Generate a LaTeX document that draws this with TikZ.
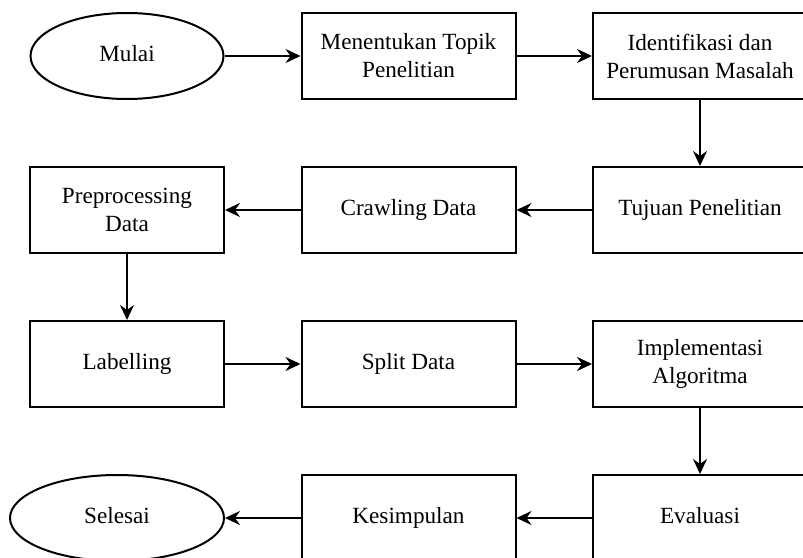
\documentclass[tikz,border=0pt]{standalone}
\usepackage{fontspec}
\setmainfont{Liberation Serif}
\usetikzlibrary{shapes.geometric}
\usetikzlibrary{arrows.meta}

\begin{document}
\begin{tikzpicture}[x=0.5pt,y=-0.5pt,
	box/.style={draw, line width=1pt, rectangle, minimum width=107pt, minimum height=43pt, align=center, font=\fontsize{11.6}{14}\selectfont},
	oneline/.style={box, text height=8pt, text depth=2.5pt},
	terminal/.style={oneline, ellipse, inner sep=0pt},
	flow/.style={->, >={Stealth[length=7.5pt,width=7pt,inset=2.5pt]}, line width=1pt}]
	\clip (0,0) rectangle (803,557);
	% baris pertama
	\node[terminal, minimum width=96.5pt] (mulai) at (127,56) {Mulai};
	\node[box] (topik) at (408.5,56) {Menentukan Topik\\Penelitian};
	\node[box] (masalah) at (700,56) {Identifikasi dan\\Perumusan Masalah};
	% baris kedua
	\node[box, minimum width=97pt] (prepro) at (127,210) {Preprocessing\\Data};
	\node[oneline] (crawling) at (408.5,210) {Crawling Data};
	\node[oneline] (tujuan) at (700,210) {Tujuan Penelitian};
	% baris ketiga
	\node[oneline, minimum width=97pt] (label) at (127,364) {Labelling};
	\node[oneline] (split) at (408.5,364) {Split Data};
	\node[box] (algo) at (700,364) {Implementasi\\Algoritma};
	% baris keempat
	\node[terminal] (selesai) at (117,518) {Selesai};
	\node[oneline] (simpulan) at (408.5,518) {Kesimpulan};
	\node[oneline] (evaluasi) at (700,518) {Evaluasi};
	\foreach \from/\to in {mulai/topik, topik/masalah, masalah/tujuan, tujuan/crawling, crawling/prepro, prepro/label, label/split, split/algo, algo/evaluasi, evaluasi/simpulan, simpulan/selesai}{
		\draw[flow] (\from) -- (\to);
	}
\end{tikzpicture}
\end{document}
